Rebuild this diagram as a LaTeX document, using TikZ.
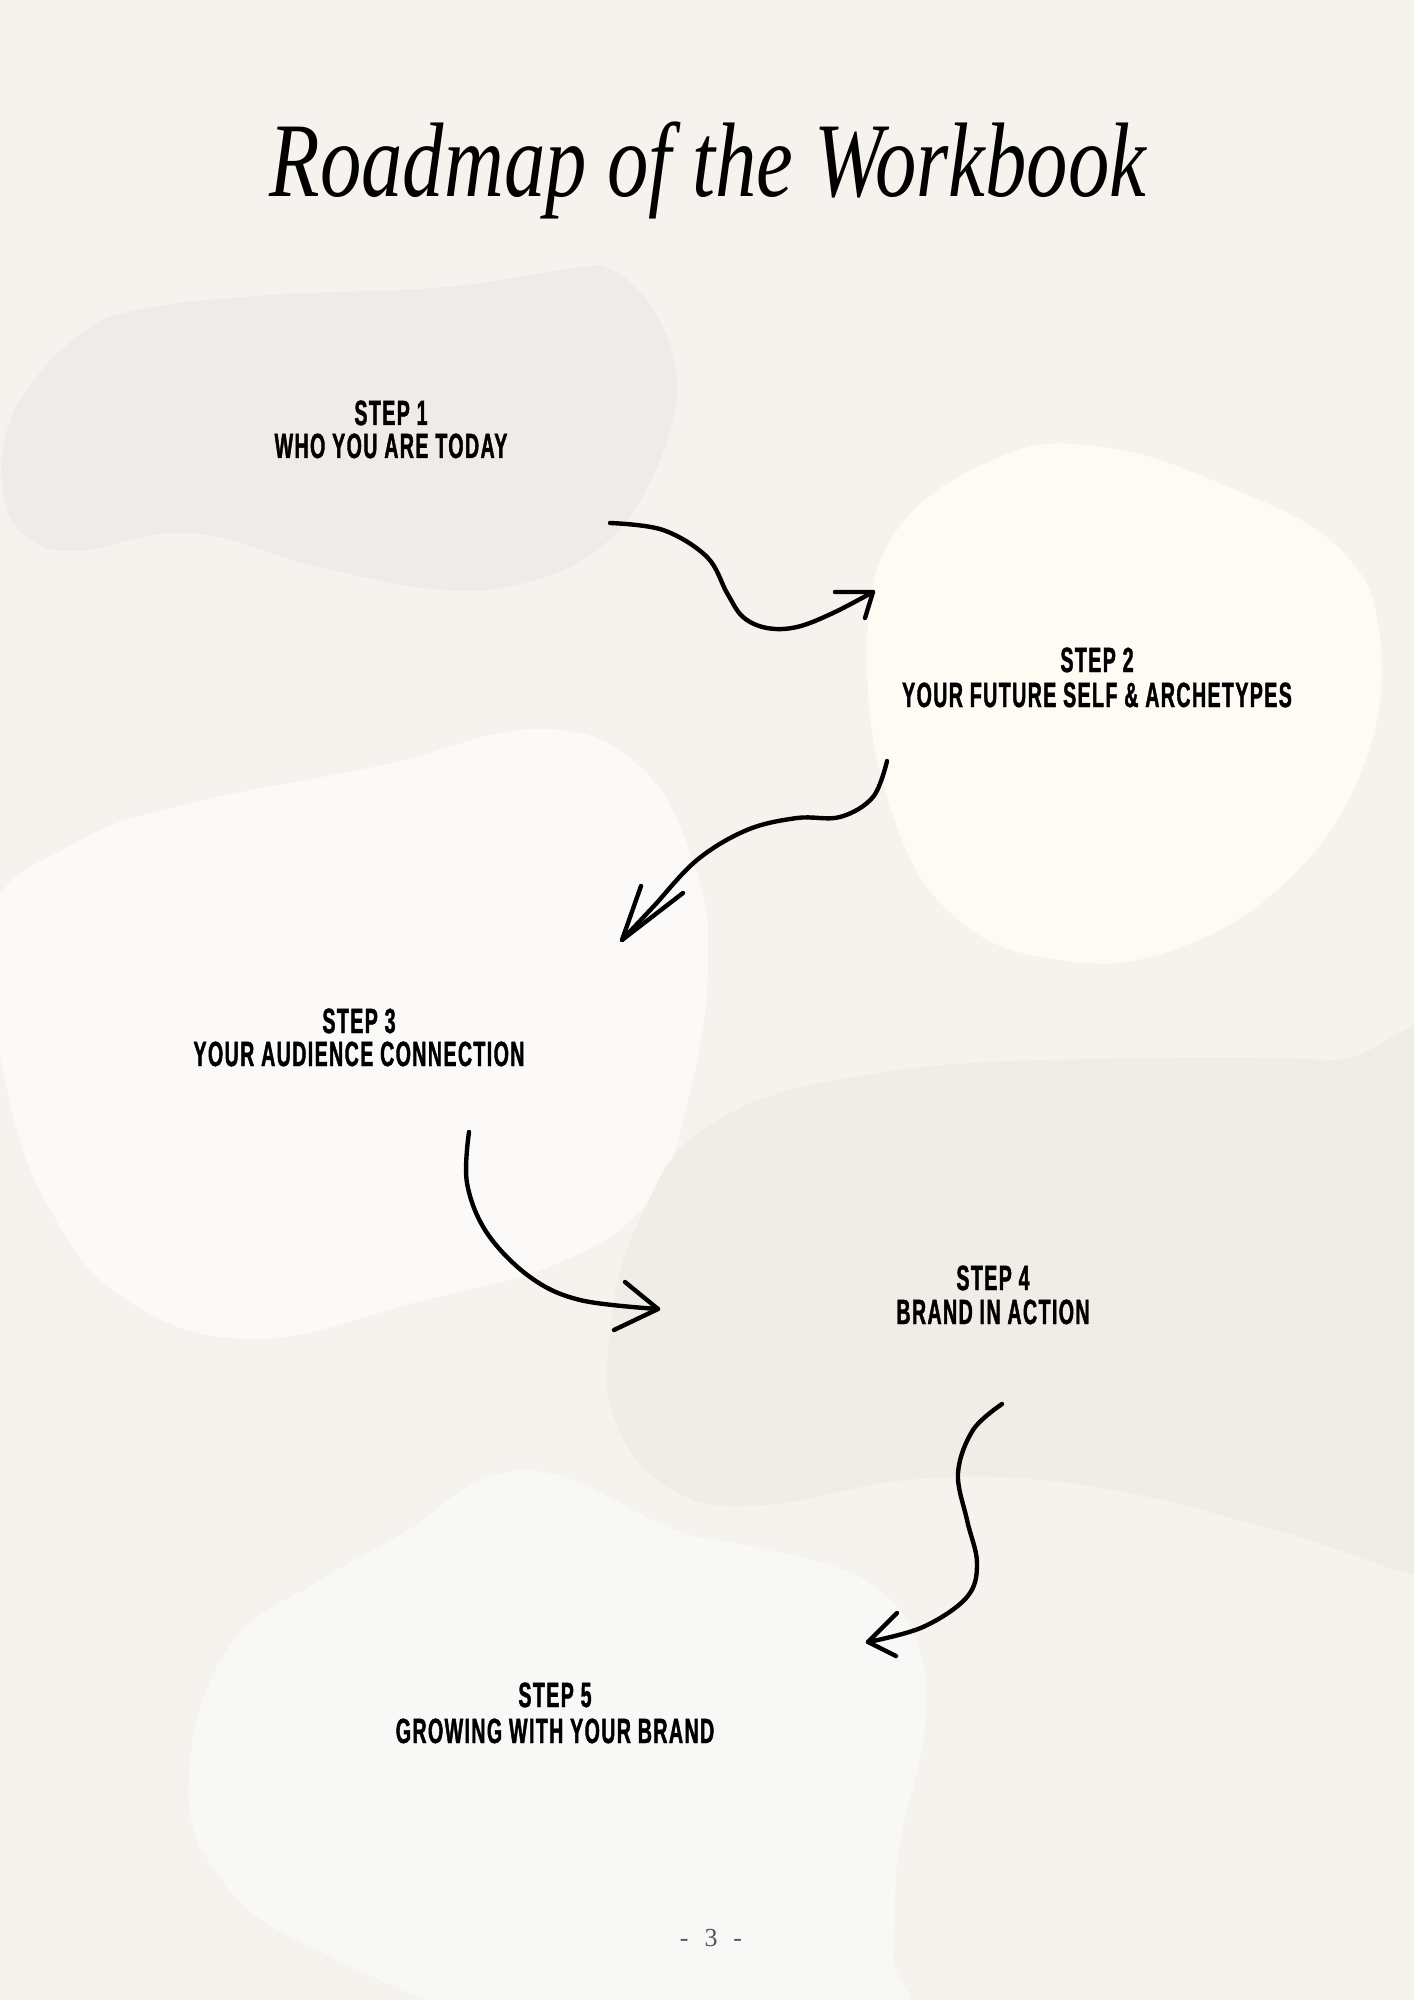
\documentclass[tikz,border=0pt]{standalone}
\usepackage{fontspec}
\newfontfamily\titlefont[FakeStretch=0.78,UprightFont={* Italic}]{Liberation Serif}
\newfontfamily\stepfont[FakeStretch=0.56,UprightFont={* Bold},FakeBold=1.2,LetterSpace=4]{Liberation Sans}
\newfontfamily\pagefont{Liberation Serif}
\definecolor{bg}{HTML}{F6F2ED}
\definecolor{blobA}{HTML}{EFEBE8}
\definecolor{blobB}{HTML}{FDFBF4}
\definecolor{blobC}{HTML}{FBFAF8}
\definecolor{blobD}{HTML}{F0EDE7}
\definecolor{blobE}{HTML}{F8F8F7}
\definecolor{pagegray}{HTML}{555555}
\begin{document}
\begin{tikzpicture}[x=0.5pt,y=-0.5pt,
  steptext/.style={font=\stepfont\fontsize{17.5}{16}\selectfont, anchor=base, text=black, inner sep=0pt, text height=12.5pt, text depth=0pt},
  arrowline/.style={line width=2.2pt, line cap=round, line join=round, draw=black}]
\useasboundingbox (0,0) rectangle (1414,2000);
\clip (0,0) rectangle (1414,2000);
\fill[bg] (0,0) rectangle (1414,2000);
% blobs
\fill[blobA] plot[smooth cycle, tension=0.7] coordinates {(76,338) (128,312) (255,296) (446,287) (574,268) (612,270) (652,308) (676,370) (669,434) (638,504) (599,548) (536,580) (446,590) (319,567) (191,533) (77,551) (26,536) (4,497) (6,434) (32,383)};
\fill[blobB] plot[smooth cycle, tension=0.7] coordinates {(867,663) (893,536) (995,459) (1097,446) (1224,485) (1339,548) (1380,638) (1364,765) (1288,880) (1173,950) (1058,960) (956,918) (893,816)};
\fill[blobC] plot[smooth cycle, tension=0.7] coordinates {(-10,918) (77,842) (191,803) (383,765) (536,729) (638,765) (695,867) (708,969) (689,1097) (650,1199) (561,1262) (421,1301) (255,1339) (128,1301) (51,1211) (6,1084)};
\fill[blobD] plot[smooth cycle, tension=0.7] coordinates {(714,1122) (893,1071) (1148,1058) (1330,1060) (1460,1070) (1460,1575) (1414,1575) (1275,1530) (1084,1485) (918,1479) (765,1505) (676,1492) (618,1428) (609,1339) (638,1224)};
\fill[blobE] plot[smooth cycle, tension=0.7] coordinates {(189,1772) (230,1645) (319,1581) (408,1530) (484,1479) (561,1476) (676,1530) (765,1549) (867,1581) (918,1645) (924,1734) (899,1849) (893,1951) (880,2030) (548,2030) (319,1951) (217,1874)};
% title
\node[font=\titlefont\fontsize{53}{60}\selectfont, anchor=base, inner sep=0pt] (title) at (708,197) {Roadmap of the Workbook};
% steps
\node[steptext] (s1a) at (391,425) {STEP 1};
\node[steptext] (s1b) at (391,458) {WHO YOU ARE TODAY};
\node[steptext] (s2a) at (1097,672) {STEP 2};
\node[steptext] (s2b) at (1097,707) {YOUR FUTURE SELF \& ARCHETYPES};
\node[steptext] (s3a) at (359,1033) {STEP 3};
\node[steptext] (s3b) at (359,1066) {YOUR AUDIENCE CONNECTION};
\node[steptext] (s4a) at (993,1290) {STEP 4};
\node[steptext] (s4b) at (993,1324) {BRAND IN ACTION};
\node[steptext] (s5a) at (555,1707) {STEP 5};
\node[steptext] (s5b) at (555,1743) {GROWING WITH YOUR BRAND};
% page number
\node[font=\pagefont\fontsize{13}{15}\selectfont, text=pagegray] (pg) at (711,1938) {-\hspace{8pt}3\hspace{8pt}-};
% arrow coordinates
\coordinate (a1s) at (610,523); \coordinate (a1e) at (873,592);
\coordinate (a2s) at (887,761); \coordinate (a2e) at (622,940);
\coordinate (a3s) at (469,1132); \coordinate (a3e) at (658,1309);
\coordinate (a4s) at (1002,1404); \coordinate (a4e) at (868,1642);
% arrow 1
\draw[arrowline] plot[smooth, tension=0.6] coordinates {(a1s) (663,530) (707,557) (727,593) (743,617) (767,628) (797,627) (833,613) (a1e)};
\draw[arrowline] (835,592) -- (a1e) -- (865,618);
% arrow 2
\draw[arrowline] plot[smooth, tension=0.6] coordinates {(a2s) (873,797) (840,817) (797,818) (747,830) (697,860) (653,907) (a2e)};
\draw[arrowline] (641,886) -- (a2e) -- (683,893);
% arrow 3
\draw[arrowline] plot[smooth, tension=0.6] coordinates {(a3s) (467,1183) (487,1233) (530,1277) (580,1300) (a3e)};
\draw[arrowline] (625,1282) -- (a3e) -- (614,1330);
% arrow 4
\draw[arrowline] plot[smooth, tension=0.6] coordinates {(a4s) (973,1430) (958,1473) (967,1520) (977,1563) (967,1597) (923,1627) (a4e)};
\draw[arrowline] (897,1613) -- (a4e) -- (896,1656);
\end{tikzpicture}
\end{document}
